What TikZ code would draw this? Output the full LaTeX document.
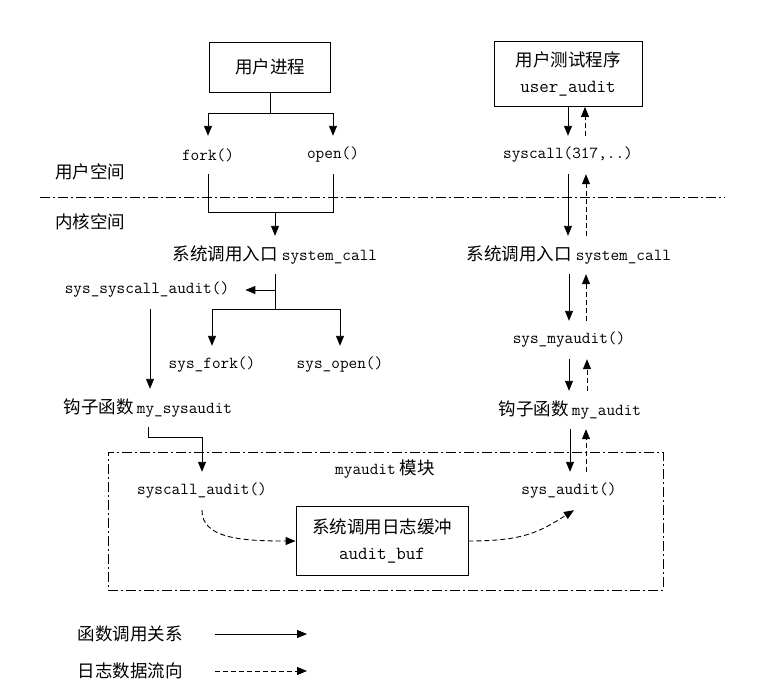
\documentclass[tikz,border=0pt]{standalone}
\usepackage{fontspec}
\setmainfont{Noto Sans CJK SC}
\usetikzlibrary{positioning,arrows.meta,calc}
\newcommand{\cnsize}{\fontsize{17.5}{24}\selectfont}
\newcommand{\cdsize}{\fontsize{16.8}{24}\selectfont}
\newcommand{\bxsize}{\fontsize{18.5}{26}\selectfont}
\newcommand{\cn}[1]{{\rmfamily\cnsize #1}}
\tikzstyle{pbox}=[rectangle, draw=black, line width=0.9pt, inner sep=2pt,
                  align=center, font=\ttfamily\bxsize]
\tikzstyle{fbox}=[inner sep=0pt, minimum height=38pt, font=\ttfamily\cdsize]
\tikzstyle{lbox}=[inner sep=0pt, font=\cnsize]
\tikzstyle{pline}=[-, line width=0.9pt]
\tikzstyle{cline}=[pline, -{Triangle[length=10pt,width=8pt]}]
\tikzstyle{dline}=[cline, dash pattern=on 5pt off 3pt]
\tikzstyle{sline}=[pline, dash pattern=on 10pt off 3pt on 2pt off 3pt]
\tikzstyle{mframe}=[rectangle, draw=black, line width=0.9pt,
                    dash pattern=on 10pt off 3pt on 2pt off 3pt]

\begin{document}
\begin{tikzpicture}[x=1pt, y=-1pt]
\useasboundingbox (0,0) rectangle (763,699);

\node (UPROC) [pbox, minimum width=121pt, minimum height=50pt] at (270,67) {\cn{用户进程}};
\node (FORK) [fbox] at (208,155) {fork()};
\node (OPEN) [fbox] at (333,155) {open()};
 \draw[cline] (UPROC.south) -- ++(0,21) -| (FORK.north);
 \draw[cline] (UPROC.south) -- ++(0,21) -| (OPEN.north);

\node (USPACE) [lbox] at (90,172) {用户空间};
\node (KSPACE) [lbox] at (90,222) {内核空间};
\coordinate (SEPL) at (40,197);
\coordinate (SEPR) at (725,197);
 \draw[sline] (SEPL) -- (SEPR);

\node (SCL) [fbox] at (275,255) {\cn{系统调用入口}\hspace{4pt}system\_call};
 \draw[pline] (FORK.south) -- ++(0,38) -| (OPEN.south);
 \draw[cline] (SCL.north |- FORK.south) ++(0,38) -- (SCL.north);
\node (SSA) [fbox] at (147,290) {sys\_syscall\_audit()};
\node (SFORK) [fbox] at (212,365) {sys\_fork()};
\node (SOPEN) [fbox] at (340,365) {sys\_open()};
 \draw[cline] (SCL.south) |- ([xshift=16pt]SSA.east);
 \draw[cline] (SCL.south) -- ++(0,35) -| (SFORK.north);
 \draw[cline] (SCL.south) -- ++(0,35) -| (SOPEN.north);
\node (MYSYS) [fbox] at (148,408) {\cn{钩子函数}\hspace{3pt}my\_sysaudit};
 \draw[cline] ([xshift=3pt]SSA.south) -- ([xshift=3pt]SSA.south |- MYSYS.north);

\node (MODULE) [mframe, minimum width=555pt, minimum height=138pt] at (385.5,521) {};
\node (MODLBL) [fbox, minimum height=0pt] at (385,469) {myaudit\hspace{4pt}\cn{模块}};
\node (SCA) [fbox] at (202,491) {syscall\_audit()};
\node (SAUD) [fbox] at (569,491) {sys\_audit()};
\node (BUF) [pbox, minimum width=172pt, minimum height=69pt] at (382,541) {\cn{系统调用日志缓冲}\\audit\_buf};
 \draw[cline] (MYSYS.south) -- ++(0,10) -| (SCA.north);
 \draw[dline] (SCA.south) .. controls +(0,28) and +(-55,0) .. (BUF.west);
 \draw[dline] (BUF.east) .. controls +(55,0) and +(-35,22) .. ([xshift=5pt]SAUD.south);

\node (USR) [pbox, minimum width=148pt, minimum height=65pt] at (568,74) {\cn{用户测试程序}\\user\_audit};
\node (SYSC) [fbox] at (568,155) {syscall(317,..)};
\node (SCR) [fbox] at (569,255) {\cn{系统调用入口}\hspace{4pt}system\_call};
\node (SMY) [fbox] at (569,340) {sys\_myaudit()};
\node (MYAUD) [fbox] at (570,410) {\cn{钩子函数}\hspace{3pt}my\_audit};
 \draw[cline] (USR.south) -- (SYSC.north);
 \draw[dline] ([xshift=17pt]SYSC.north) -- ([xshift=17pt]SYSC.north |- USR.south);
 \draw[cline] (SYSC.south) -- (SYSC.south |- SCR.north);
 \draw[dline] ([xshift=17pt]SCR.north) -- ([xshift=17pt]SCR.north |- SYSC.south);
 \draw[cline] (SCR.south) -- (SCR.south |- SMY.north);
 \draw[dline] ([xshift=17pt]SMY.north) -- ([xshift=17pt]SMY.north |- SCR.south);
 \draw[cline] (SMY.south) -- (SMY.south |- MYAUD.north);
 \draw[dline] ([xshift=17pt]MYAUD.north) -- ([xshift=17pt]MYAUD.north |- SMY.south);
 \draw[cline] (MYAUD.south) -- (MYAUD.south |- SAUD.north);
 \draw[dline] ([xshift=17pt]SAUD.north) -- ([xshift=17pt]SAUD.north |- MYAUD.south);

\node (LGCALL) [lbox] at (130,634) {函数调用关系};
\node (LGLOG) [lbox] at (130,671) {日志数据流向};
\coordinate (CALLA) at (215,634);
\coordinate (CALLB) at (307,634);
\coordinate (LOGA) at (215,671);
\coordinate (LOGB) at (307,671);
 \draw[cline] (CALLA) -- (CALLB);
 \draw[dline] (LOGA) -- (LOGB);

\end{tikzpicture}
\end{document}
